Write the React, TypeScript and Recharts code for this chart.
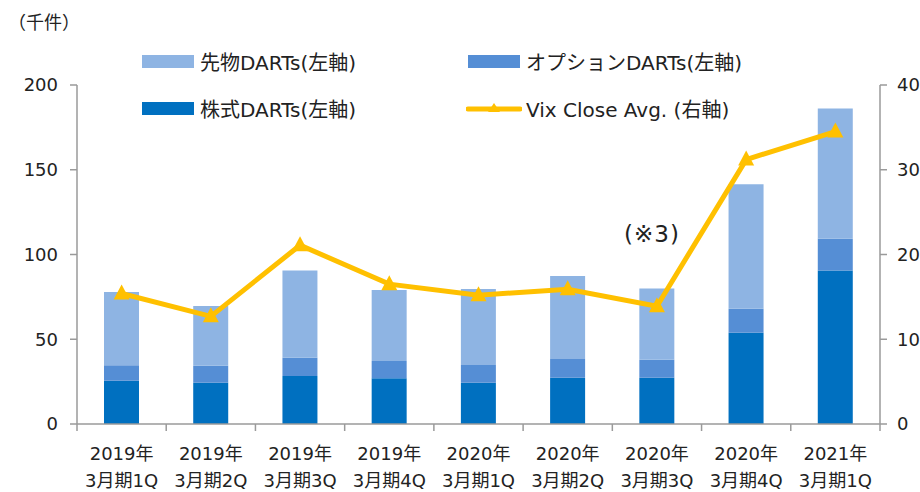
import React from "react";
import {
  ComposedChart,
  Bar,
  Line,
  XAxis,
  YAxis,
} from "recharts";

const periods = [
  "2019年|3月期1Q",
  "2019年|3月期2Q",
  "2019年|3月期3Q",
  "2019年|3月期4Q",
  "2020年|3月期1Q",
  "2020年|3月期2Q",
  "2020年|3月期3Q",
  "2020年|3月期4Q",
  "2021年|3月期1Q",
];
const stockDarts = [25.5, 24.4, 28.3, 27.0, 24.4, 27.3, 27.3, 53.9, 90.5];
const optionDarts = [9.1, 10.0, 10.8, 10.2, 10.4, 11.0, 10.6, 14.1, 18.8];
const futuresDarts = [43.3, 35.2, 51.4, 41.9, 44.8, 49.0, 42.1, 73.4, 76.9];
const vixAvg = [15.4, 12.7, 21.1, 16.5, 15.2, 15.9, 13.9, 31.2, 34.5];

const leftTicks = [0, 50, 100, 150, 200];
const rightTicks = [0, 10, 20, 30, 40];

const chartData = periods.map((p, i) => ({
  period: p,
  stock: stockDarts[i],
  option: optionDarts[i],
  futures: futuresDarts[i],
  vix: vixAvg[i],
}));

const FONT = "'DejaVu Sans', 'Noto Sans CJK JP', sans-serif";
const AXIS = "#9a9a9a";
const C_FUT = "#8eb4e3";
const C_OPT = "#558ed5";
const C_STK = "#0070c0";
const C_VIX = "#ffc000";

const PLOT_W = 920 - 77 - 40;
const CAT_W = PLOT_W / periods.length;

const XTick = (props: any) => {
  const { x, y, payload, index } = props;
  const [l1, l2] = String(payload.value).split("|");
  const half = CAT_W / 2;
  return (
    <g>
      <line x1={x - half} x2={x - half} y1={y} y2={y + 7} stroke={AXIS} strokeWidth={1.5} />
      {index === periods.length - 1 && (
        <line x1={x + half} x2={x + half} y1={y} y2={y + 7} stroke={AXIS} strokeWidth={1.5} />
      )}
      <text x={x} y={y + 36} textAnchor="middle" fill="#222" fontSize={18} fontFamily={FONT}>
        {l1}
      </text>
      <text x={x} y={y + 63} textAnchor="middle" fill="#222" fontSize={18} fontFamily={FONT}>
        {l2}
      </text>
    </g>
  );
};

const Triangle = (props: any) => {
  const { cx, cy } = props;
  if (cx == null || cy == null) return null;
  return (
    <path
      d={`M${cx},${cy - 9} L${cx + 8},${cy + 6} L${cx - 8},${cy + 6} Z`}
      fill={C_VIX}
    />
  );
};

const LegendItem = ({
  left,
  top,
  color,
  label,
  line,
}: {
  left: number;
  top: number;
  color: string;
  label: string;
  line?: boolean;
}) => (
  <div style={{ position: "absolute", left, top, display: "flex", alignItems: "center", whiteSpace: "nowrap" }}>
    {line ? (
      <svg width={56} height={14} style={{ marginRight: 4 }}>
        <line x1={2} x2={54} y1={7} y2={7} stroke={color} strokeWidth={5} strokeLinecap="round" />
        <path d="M28,1 L34,10 L22,10 Z" fill={color} />
      </svg>
    ) : (
      <div style={{ width: 52, height: 13, background: color, marginRight: 6, marginLeft: 2 }} />
    )}
    <span style={{ fontSize: 20, color: "#222" }}>{label}</span>
  </div>
);

export default function App() {
  return (
    <div
      style={{
        position: "absolute",
        left: 0,
        top: 0,
        width: 920,
        height: 492,
        background: "#fff",
        fontFamily: FONT,
        overflow: "hidden",
      }}
    >
      <div style={{ position: "absolute", left: 8, top: 8, fontSize: 18, color: "#222" }}>（千件）</div>

      <LegendItem left={140} top={47} color={C_FUT} label="先物DARTs(左軸)" />
      <LegendItem left={466} top={47} color={C_OPT} label="オプションDARTs(左軸)" />
      <LegendItem left={140} top={94} color={C_STK} label="株式DARTs(左軸)" />
      <LegendItem left={466} top={94} color={C_VIX} label="Vix Close Avg. (右軸)" line />

      <div style={{ position: "absolute", left: 624, top: 221, fontSize: 23, color: "#222", letterSpacing: 1 }}>
        (※3)
      </div>

      <ComposedChart
        width={920}
        height={492}
        data={chartData}
        margin={{ top: 85, right: 0, bottom: 0, left: 0 }}
        barSize={35}
      >
        <XAxis
          dataKey="period"
          height={68}
          interval={0}
          tickLine={false}
          tickSize={0}
          tickMargin={0}
          axisLine={{ stroke: AXIS, strokeWidth: 1.5 }}
          tick={<XTick />}
        />
        <YAxis
          yAxisId="left"
          width={77}
          domain={[0, 200]}
          ticks={leftTicks}
          interval={0}
          axisLine={{ stroke: AXIS, strokeWidth: 1.5 }}
          tickLine={{ stroke: AXIS, strokeWidth: 1.5 }}
          tickSize={7}
          tickMargin={12}
          tick={{ fill: "#222", fontSize: 18, fontFamily: FONT }}
        />
        <YAxis
          yAxisId="right"
          orientation="right"
          width={40}
          domain={[0, 40]}
          ticks={rightTicks}
          interval={0}
          axisLine={{ stroke: AXIS, strokeWidth: 1.5 }}
          tickLine={{ stroke: AXIS, strokeWidth: 1.5 }}
          tickSize={7}
          tickMargin={10}
          tick={{ fill: "#222", fontSize: 18, fontFamily: FONT }}
        />
        <Bar yAxisId="left" dataKey="stock" stackId="d" fill={C_STK} isAnimationActive={false} />
        <Bar yAxisId="left" dataKey="option" stackId="d" fill={C_OPT} isAnimationActive={false} />
        <Bar yAxisId="left" dataKey="futures" stackId="d" fill={C_FUT} isAnimationActive={false} />
        <Line
          yAxisId="right"
          dataKey="vix"
          stroke={C_VIX}
          strokeWidth={5}
          dot={<Triangle />}
          activeDot={false}
          isAnimationActive={false}
        />
      </ComposedChart>
    </div>
  );
}
